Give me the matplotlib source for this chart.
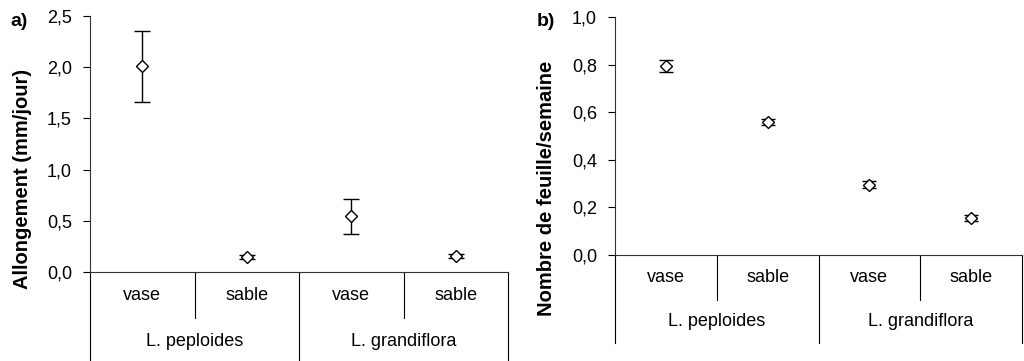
import matplotlib.pyplot as plt
from matplotlib.ticker import FuncFormatter

plt.rcParams['font.family'] = ['Liberation Sans', 'DejaVu Sans']

# data
groups = ['L. peploides', 'L. grandiflora']
substrates = ['vase', 'sable', 'vase', 'sable']

allong_mean = [2.01, 0.15, 0.545, 0.155]
allong_err = [0.345, 0.02, 0.17, 0.02]

feuille_mean = [0.795, 0.56, 0.295, 0.155]
feuille_err = [0.027, 0.013, 0.015, 0.012]


def comma(v, pos):
    return ('%.1f' % v).replace('.', ',')


def drawPanel(ax, means, errs, ymax, ystep, small_drop, big_drop, capsize):
    x = [i + 0.5 for i in range(len(means))]
    ax.errorbar(x, means, yerr=errs, fmt='D', ms=6.2, mfc='white', mec='black',
                mew=1.0, ecolor='black', elinewidth=1.0, capsize=capsize,
                capthick=1.0, zorder=3)
    ax.set_xlim(0, len(means))
    ax.set_ylim(0, ymax)
    ticks = []
    t = 0.0
    while t <= ymax + 1e-9:
        ticks.append(t)
        t += ystep
    ax.set_yticks(ticks)
    ax.yaxis.set_major_formatter(FuncFormatter(comma))
    ax.tick_params(axis='y', direction='out', length=5, width=0.8, pad=8,
                   labelsize=13)
    ax.set_xticks([])
    for s in ['top', 'right']:
        ax.spines[s].set_visible(False)
    ax.spines['left'].set_linewidth(0.8)
    ax.spines['bottom'].set_linewidth(0.8)
    ax.spines['left'].set_color('#333333')
    ax.spines['bottom'].set_color('#333333')

    tr = ax.get_xaxis_transform()
    # category table below the axis
    for xi in [0, 2, 4]:
        ax.plot([xi, xi], [0, -big_drop], transform=tr, color='black', lw=0.8,
                clip_on=False)
    for xi in [1, 3]:
        ax.plot([xi, xi], [0, -small_drop], transform=tr, color='black', lw=0.8,
                clip_on=False)
    for xi, lab in zip(x, substrates):
        ax.text(xi, -small_drop / 2, lab, transform=tr, ha='center',
                va='center', fontsize=13)
    for k, g in enumerate(groups):
        ax.text(2 * k + 1, -(small_drop + big_drop) / 2, g, transform=tr,
                ha='center', va='center', fontsize=13)


fig = plt.figure(figsize=(10.24, 3.61), dpi=100)
W, H = 1024, 361

axa = fig.add_axes([90 / W, 1 - 272 / H, (508 - 90) / W, (272 - 16) / H])
drawPanel(axa, allong_mean, allong_err, 2.5, 0.5, 0.18, 0.36, 5.5)

axb = fig.add_axes([615 / W, 1 - 255 / H, (1022 - 615) / W, (255 - 17.3) / H])
drawPanel(axb, feuille_mean, feuille_err, 1.0, 0.2, 0.19, 0.37, 4.8)

fig.text(23 / W, 1 - 179 / H, 'Allongement (mm/jour)', rotation=90,
         ha='center', va='center', fontsize=14.5, fontweight='bold')
fig.text(547 / W, 1 - 188 / H, 'Nombre de feuille/semaine', rotation=90,
         ha='center', va='center', fontsize=14.5, fontweight='bold')
fig.text(19 / W, 1 - 22 / H, 'a)', ha='center', va='center', fontsize=14,
         fontweight='bold')
fig.text(546 / W, 1 - 22 / H, 'b)', ha='center', va='center', fontsize=14,
         fontweight='bold')

fig.savefig('out.png', dpi=100)
